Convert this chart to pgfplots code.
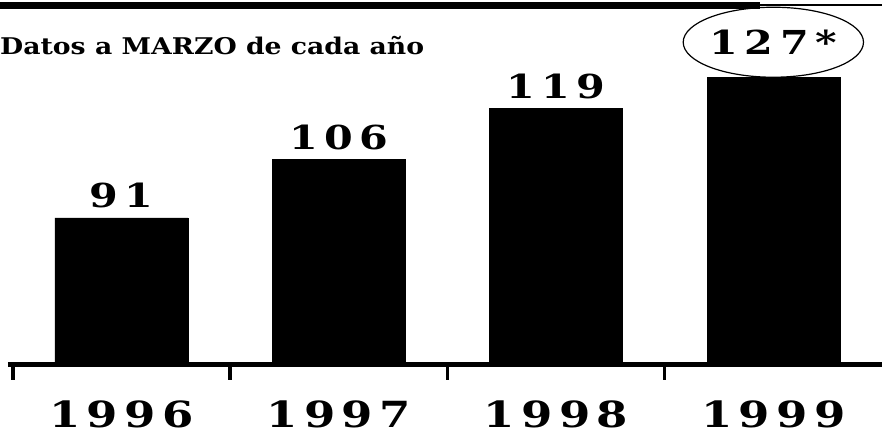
\documentclass[border=0pt]{standalone}
\usepackage{fontspec}
\setmainfont{DejaVu Serif}
\newfontfamily\valfont[LetterSpace=16]{DejaVu Serif}
\newfontfamily\yearfont[LetterSpace=14]{DejaVu Serif}
\usepackage{pgfplots}
\pgfplotsset{compat=1.18}
\usetikzlibrary{shapes.geometric}
\begin{document}
\begin{tikzpicture}
\begin{axis}[
  scale only axis, width=874pt, height=365pt,
  xmin=-0.522, xmax=3.5, ymin=53.5, ymax=146.6,
  clip=false,
  axis y line=none, axis x line*=bottom,
  x axis line style={line width=5pt},
  xtick={0,1,2,3},
  xticklabels={\scalebox{1.25}[1]{1996},\scalebox{1.25}[1]{1997},\scalebox{1.25}[1]{1998},\scalebox{1.25}[1]{1999}},
  major tick length=0pt,
  xticklabel style={font=\yearfont\bfseries\fontsize{36}{42}\selectfont, anchor=base, yshift=-63pt},
  extra x ticks={-0.5,0.5,1.5,2.5}, extra x tick labels={},
  extra x tick style={major tick length=15pt, tick align=outside, major tick style={line width=3.5pt, black}},
  ybar, bar width=133pt, bar shift=0pt,
]
\addplot[fill=black, draw=black, nodes near coords={\scalebox{1.25}[1]{\pgfplotspointmeta}}, point meta=explicit symbolic,
  nodes near coords style={font=\valfont\bfseries\fontsize{33}{38}\selectfont, anchor=base, yshift=10pt, text=black}]
  table[meta=label]{
x y label
0 91 91
1 106 106
2 119 119
};
\addplot[fill=black, draw=black, nodes near coords={\scalebox{1.25}[1]{\pgfplotspointmeta}}, point meta=explicit symbolic,
  nodes near coords style={font=\valfont\bfseries\fontsize{33}{38}\selectfont, shape=ellipse, draw=black, line width=1.2pt, minimum width=142pt, minimum height=70pt, inner sep=0pt, anchor=south, yshift=-1pt, text=black}]
  table[meta=label]{
x y label
3 127 127*
};
\node[anchor=base west, inner sep=0pt, font=\bfseries\fontsize{23}{27}\selectfont] at ([xshift=-8pt,yshift=-55pt]rel axis cs:0,1) {\scalebox{1.16}[1]{Datos a MARZO de cada año}};
\end{axis}
\draw[line width=7pt] ([xshift=-8pt,yshift=-6pt]current axis.north west) -- ([xshift=-122pt,yshift=-6pt]current axis.north east);
\draw[line width=2.5pt] ([xshift=-122pt,yshift=-5pt]current axis.north east) -- ([yshift=-5pt]current axis.north east);
\pgfresetboundingbox
\path ([xshift=-8pt,yshift=-71pt]current axis.south west) rectangle (current axis.north east);
\end{tikzpicture}
\end{document}
